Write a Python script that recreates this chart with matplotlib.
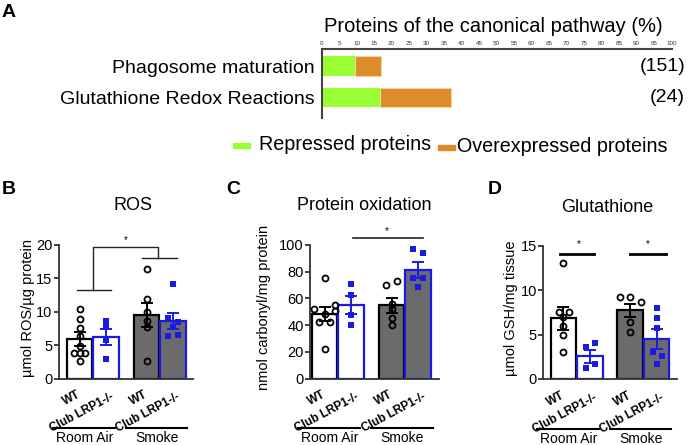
import matplotlib
matplotlib.use('Agg')
import matplotlib.pyplot as plt
import matplotlib.transforms as mtransforms
from matplotlib.patches import Rectangle

plt.rcParams['font.family'] = ['Liberation Sans', 'DejaVu Sans']

# panel A data
pathways = ['Phagosome maturation', 'Glutathione Redox Reactions']
repressed = [9.6, 16.7]
overexpressed = [7.4, 20.4]
pathway_n = ['(151)', '(24)']

# panels B-D data (order: WT RA, Club RA, WT smoke, Club smoke)
bar_labels = ['WT', 'Club LRP1-/-', 'WT', 'Club LRP1-/-']
conditions = ['Room Air', 'Smoke']

ros_mean = [5.9, 6.2, 9.5, 8.6]
ros_sem = [1.0, 1.25, 1.85, 1.2]
ros_points = [[10.4, 8.9, 7.6, 6.35, 4.85, 3.75, 3.75, 3.75, 2.6],
              [8.65, 7.65, 5.75, 2.9],
              [16.35, 11.85, 9.9, 8.6, 7.75, 2.6],
              [14.1, 9.0, 8.4, 7.65, 6.4, 6.5]]

carb_mean = [48.3, 55.0, 55.0, 81.3]
carb_sem = [5.5, 7.0, 5.6, 6.3]
carb_points = [[75.1, 51.7, 48.5, 55.2, 50.7, 42.3, 42.3, 22.4],
               [70.9, 62.7, 47.3, 40.3],
               [69.7, 73.1, 55.7, 52.2, 45.3, 40.3],
               [97.0, 94.3, 75.1, 75.1, 68.2]]

gsh_mean = [6.8, 2.55, 7.7, 4.5]
gsh_sem = [1.25, 0.72, 0.78, 1.15]
gsh_points = [[13.0, 7.5, 7.5, 7.0, 6.0, 4.9, 3.0],
              [3.6, 4.1, 1.25, 1.7],
              [9.2, 9.2, 8.7, 6.4, 5.3],
              [8.0, 6.8, 5.7, 3.0, 2.6, 1.7]]

# horizontal scatter of the dots (layout only)
ros_jit = [[0, 0, 0, 0, 0, -0.21, 0, 0.2, 0], [0] * 4, [0] * 6,
           [0, -0.18, 0.2, 0, -0.18, 0.2]]
carb_jit = [[0, -0.4, 0, 0.41, 0.41, -0.2, 0.22, 0], [0] * 4,
            [-0.21, 0.19, 0, 0, 0, 0], [-0.2, 0.2, -0.2, 0.2, 0]]
gsh_jit = [[0, -0.17, 0.2, 0, 0, 0, 0], [-0.16, 0.21, -0.16, 0.21],
           [-0.4, 0, 0.42, 0, 0], [0, 0, 0, -0.14, 0.19, 0]]

W, H = 688, 445
fig = plt.figure(figsize=(W / 100, H / 100), dpi=100)


def px(x, y):
    return x / W, 1 - y / H


BLUE = '#1a1ae6'
GREY = '#6b6b6b'
SPINE = '#333333'

# ---------- panel A ----------
axA = fig.add_axes([321.5 / W, 1 - 117.7 / H, 350 / W, 69 / H])
ypos = [0, 1]
axA.barh(ypos, repressed, height=0.63, color='#99ff33', edgecolor='none')
axA.barh(ypos, overexpressed, left=repressed, height=0.63, color='#dd8c29',
         edgecolor='#f2d2a2', linewidth=0.8)
axA.set_xlim(0, 100)
axA.set_ylim(1.64, -0.55)
axA.xaxis.tick_top()
axA.set_xticks(range(0, 101, 5))
axA.tick_params(axis='x', length=0, labelsize=4.5, pad=2, colors='#333333')
axA.set_yticks(ypos, pathways)
axA.tick_params(axis='y', length=0, labelsize=14, pad=5)
for s in ['right', 'bottom']:
    axA.spines[s].set_visible(False)
for s in ['top', 'left']:
    axA.spines[s].set_color('#444444')
    axA.spines[s].set_linewidth(1.5)
trA = mtransforms.blended_transform_factory(axA.transAxes, axA.transData)
for i, n in enumerate(pathway_n):
    axA.text(1.039, ypos[i], n, transform=trA, ha='right', va='center', fontsize=14)
fig.text(*px(493.5, 26), 'Proteins of the canonical pathway (%)', ha='center',
         va='center', fontsize=14.5)

# legend
fig.patches.append(Rectangle(px(232.7, 147.5), 17.3 / W, 5 / H, color='#99ff33',
                             transform=fig.transFigure))
fig.text(*px(259, 145), 'Repressed proteins', ha='left', va='center', fontsize=14.2)
fig.patches.append(Rectangle(px(438, 149.5), 17 / W, 5 / H, color='#dd8c29',
                             transform=fig.transFigure))
fig.text(*px(457, 146), 'Overexpressed proteins', ha='left', va='center', fontsize=14.2)

# ---------- panels B-D ----------
xs = [0, 1, 2.53, 3.53]
faces = ['white', 'white', GREY, GREY]
edges = ['black', BLUE, 'black', BLUE]


def bar_panel(rect, xlim, means, sems, points, jit, ymax, yticks, ylabel, ylab_x):
    ax = fig.add_axes(rect)
    for i in range(4):
        ax.bar(xs[i], means[i], width=0.97, color=faces[i], edgecolor=edges[i],
               linewidth=1.6, zorder=2)
        px_ = [xs[i] + j for j in jit[i]]
        if i % 2 == 0:
            ax.plot(px_, points[i], 'o', ms=4.3, mfc='none', mec='black', mew=1.3,
                    zorder=3, clip_on=False)
        else:
            ax.plot(px_, points[i], 's', ms=3.9, color=BLUE, mew=0, zorder=3,
                    clip_on=False)
        ax.errorbar(xs[i], means[i], yerr=sems[i], color=edges[i], capsize=4.5,
                    elinewidth=1.4, capthick=1.4, zorder=4)
    ax.set_xlim(*xlim)
    ax.set_ylim(0, ymax)
    ax.set_yticks(yticks)
    ax.set_xticks([])
    for s in ['right', 'top']:
        ax.spines[s].set_visible(False)
    for s in ['left', 'bottom']:
        ax.spines[s].set_color(SPINE)
        ax.spines[s].set_linewidth(1.3)
    ax.tick_params(axis='y', length=3.5, width=1.3, color=SPINE, labelsize=10.5, pad=1)
    ax.set_ylabel(ylabel, fontsize=10.5)
    ax.yaxis.set_label_coords(ylab_x, 0.53)
    tr = mtransforms.blended_transform_factory(ax.transData, ax.transAxes)
    # bar labels
    for i, lab in enumerate(bar_labels):
        if i % 2 == 0:
            ax.text(xs[i] + 0.0, -0.115, lab, transform=tr, rotation=28, ha='right',
                    va='center', rotation_mode='anchor', fontsize=8.5, fontweight='bold')
        else:
            ax.text(xs[i] + 0.25, -0.135, lab, transform=tr, rotation=28, ha='right',
                    va='center', rotation_mode='anchor', fontsize=8.5, fontweight='bold')
    # condition groups
    for (a, b), c, cx in zip([(-1.0, 1.33), (1.76, 4.08)], conditions, [0.2, 2.92]):
        ax.plot([a, b], [-0.371, -0.371], transform=tr, color='black', lw=1.5,
                clip_on=False)
        ax.text(cx, -0.447, c, transform=tr, ha='center', va='center', fontsize=10)
    return ax


axB = bar_panel([58.5 / W, 1 - 378.5 / H, 134.8 / W, 133.5 / H], (-0.8, 4.3),
                ros_mean, ros_sem, ros_points, ros_jit, 20, [0, 5, 10, 15, 20],
                'µmol ROS/µg protein', -0.175)
axC = bar_panel([310 / W, 1 - 378.5 / H, 129 / W, 133.5 / H], (-0.55, 4.32),
                carb_mean, carb_sem, carb_points, carb_jit, 100, [0, 20, 40, 60, 80, 100],
                'nmol carbonyl/mg protein', -0.3)
axD = bar_panel([543 / W, 1 - 379 / H, 134 / W, 133.5 / H], (-0.77, 4.3),
                gsh_mean, gsh_sem, gsh_points, gsh_jit, 15, [0, 5, 10, 15],
                'µmol GSH/mg tissue', -0.185)

# significance marks
kw = dict(color='#222222', lw=1.0, clip_on=False)
axB.plot([-0.1, 1.2], [13.25, 13.25], **kw)
axB.plot([2.36, 3.68], [18.1, 18.1], **kw)
axB.plot([0.49, 0.49, 2.98, 2.98], [13.25, 19.75, 19.75, 18.1], **kw)
axB.text(1.73, 20.0, '*', ha='center', va='bottom', fontsize=7)

axC.plot([1.07, 3.71], [105.4, 105.4], color='#222222', lw=1.2, clip_on=False)
axC.text(2.34, 106.5, '*', ha='center', va='bottom', fontsize=7)

axD.plot([-0.11, 1.15], [14.1, 14.1], color='black', lw=2, clip_on=False)
axD.plot([2.51, 3.87], [14.1, 14.1], color='black', lw=2, clip_on=False)
axD.text(0.57, 14.6, '*', ha='center', va='bottom', fontsize=7)
axD.text(3.2, 14.6, '*', ha='center', va='bottom', fontsize=7)

# titles and panel letters
fig.text(*px(133, 206), 'ROS', ha='center', va='center', fontsize=13)
fig.text(*px(364, 205), 'Protein oxidation', ha='center', va='center', fontsize=13)
fig.text(*px(607, 207), 'Glutathione', ha='center', va='center', fontsize=13)

for lab, x, y in [('A', 2, 4), ('B', 2, 181), ('C', 226, 181), ('D', 488, 181)]:
    fig.text(*px(x, y), lab, ha='left', va='top', fontsize=14, fontweight='bold')

fig.savefig('out.png', dpi=100)
